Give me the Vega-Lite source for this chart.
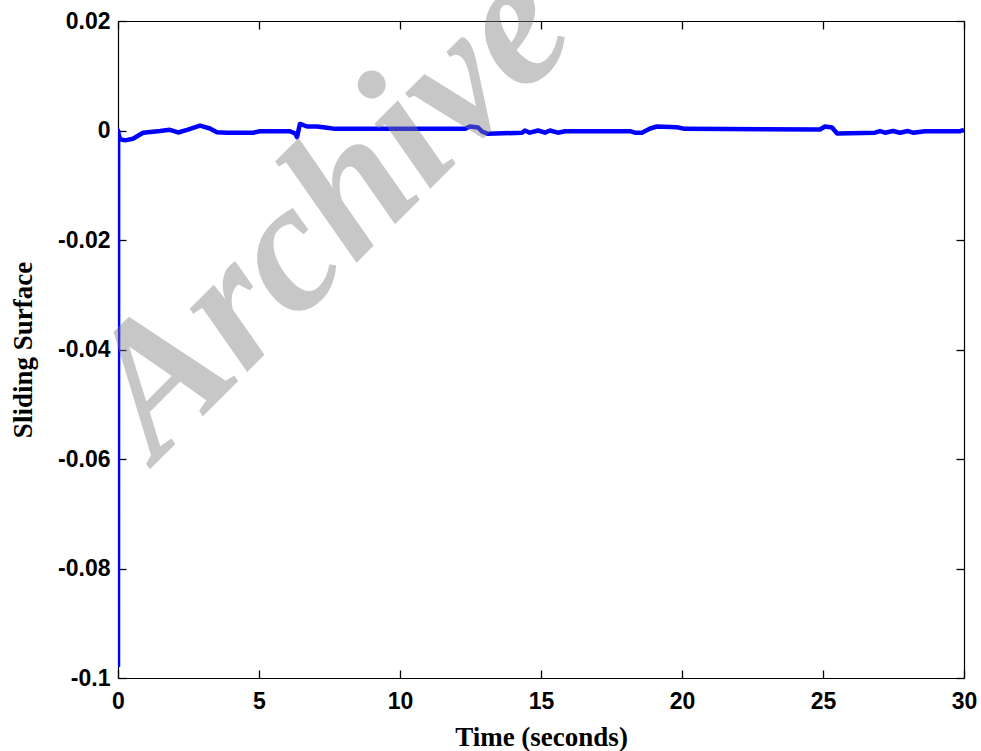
{
  "$schema": "https://vega.github.io/schema/vega-lite/v6.json",
  "width": 846,
  "height": 657,
  "autosize": {"type": "none"},
  "padding": {"left": 118, "top": 21, "right": 17, "bottom": 73},
  "background": "white",
  "config": {
    "view": {"stroke": null},
    "axis": {"domainColor": "black", "domainWidth": 1.2, "ticks": true, "tickColor": "black", "tickSize": -8, "tickWidth": 1.3, "grid": false}
  },
  "datasets": {
    "series": [
      {"t": 0, "v": -0.098},
      {"t": 0.005, "v": 0.0},
      {"t": 0.018, "v": -0.00055},
      {"t": 0.07, "v": -0.0016},
      {"t": 0.25, "v": -0.0018},
      {"t": 0.53, "v": -0.0015},
      {"t": 0.89, "v": -0.0004},
      {"t": 1.49, "v": -0.0001},
      {"t": 1.84, "v": 0.00013},
      {"t": 2.13, "v": -0.00036},
      {"t": 2.45, "v": 0.00013},
      {"t": 2.91, "v": 0.0009},
      {"t": 3.26, "v": 0.00036},
      {"t": 3.51, "v": -0.0003},
      {"t": 3.87, "v": -0.0004},
      {"t": 4.79, "v": -0.0004},
      {"t": 5.04, "v": -0.00013},
      {"t": 6.1, "v": -0.00013},
      {"t": 6.28, "v": -0.00055},
      {"t": 6.35, "v": -0.0012},
      {"t": 6.45, "v": 0.0012},
      {"t": 6.52, "v": 0.0011},
      {"t": 6.7, "v": 0.00073},
      {"t": 7.06, "v": 0.00073},
      {"t": 7.41, "v": 0.0005},
      {"t": 7.7, "v": 0.0003},
      {"t": 12.3, "v": 0.0003},
      {"t": 12.48, "v": 0.00073},
      {"t": 12.77, "v": 0.00055},
      {"t": 12.91, "v": -0.00018},
      {"t": 13.12, "v": -0.0006},
      {"t": 14.33, "v": -0.0004},
      {"t": 14.43, "v": 0.0},
      {"t": 14.6, "v": -0.0004},
      {"t": 14.9, "v": 0.0},
      {"t": 15.14, "v": -0.0004},
      {"t": 15.32, "v": 0.0},
      {"t": 15.6, "v": -0.0004},
      {"t": 15.85, "v": -0.00013},
      {"t": 18.16, "v": -0.00013},
      {"t": 18.33, "v": -0.0004},
      {"t": 18.58, "v": -0.0004},
      {"t": 18.87, "v": 0.00036},
      {"t": 19.11, "v": 0.00073},
      {"t": 19.82, "v": 0.0006},
      {"t": 20.1, "v": 0.0003},
      {"t": 24.89, "v": 0.00018},
      {"t": 25.07, "v": 0.00073},
      {"t": 25.32, "v": 0.00055},
      {"t": 25.5, "v": -0.00055},
      {"t": 26.84, "v": -0.0004},
      {"t": 27.02, "v": -0.0001},
      {"t": 27.2, "v": -0.0004},
      {"t": 27.48, "v": -0.0001},
      {"t": 27.73, "v": -0.0004},
      {"t": 28.01, "v": -0.0001},
      {"t": 28.19, "v": -0.0004},
      {"t": 28.62, "v": -0.00013},
      {"t": 29.86, "v": -0.00013},
      {"t": 30, "v": 0.0001}
    ],
    "wm": [{"t": 7.48, "v": -0.0147, "label": "Archive"}]
  },
  "layer": [
    {
      "data": {"name": "series"},
      "mark": {"type": "line", "color": "#0000ff", "strokeWidth": 4.5, "clip": true, "strokeJoin": "round"},
      "encoding": {
        "x": {
          "field": "t", "type": "quantitative",
          "scale": {"domain": [0, 30], "nice": false, "zero": false},
          "axis": {
            "orient": "bottom", "values": [0, 5, 10, 15, 20, 25, 30],
            "labelPadding": 20,
            "labelFont": "Liberation Sans", "labelFontWeight": "bold", "labelFontSize": 23, "labelColor": "black",
            "labelFlush": false, "labelOverlap": false,
            "title": "Time  (seconds)", "titleFont": "Liberation Serif", "titleFontWeight": "bold", "titleFontSize": 27,
            "titleColor": "black", "titlePadding": 11
          }
        },
        "y": {
          "field": "v", "type": "quantitative",
          "scale": {"domain": [-0.1, 0.02], "nice": false, "zero": false},
          "axis": {
            "orient": "left", "values": [-0.1, -0.08, -0.06, -0.04, -0.02, 0, 0.02],
            "labelExpr": "toString(round(datum.value*100)/100)",
            "labelPadding": 16,
            "labelFont": "Liberation Sans", "labelFontWeight": "bold", "labelFontSize": 23, "labelColor": "black",
            "labelFlush": false, "labelOverlap": false,
            "title": "Sliding Surface", "titleFont": "Liberation Serif", "titleFontWeight": "bold", "titleFontSize": 27,
            "titleColor": "black", "titlePadding": 20
          }
        }
      }
    },
    {
      "data": {"name": "series"},
      "mark": {"type": "line", "strokeOpacity": 0},
      "encoding": {
        "x": {"field": "t", "type": "quantitative",
          "axis": {"orient": "top", "values": [0, 5, 10, 15, 20, 25, 30], "labels": false, "title": null}},
        "y": {"field": "v", "type": "quantitative",
          "axis": {"orient": "right", "values": [-0.1, -0.08, -0.06, -0.04, -0.02, 0, 0.02], "labels": false, "title": null}}
      }
    },
    {
      "data": {"name": "wm"},
      "mark": {"type": "text", "font": "Liberation Serif", "fontWeight": "bold", "fontStyle": "italic", "fontSize": 186,
        "angle": -45, "align": "center", "baseline": "middle", "color": "#808080", "opacity": 0.43},
      "encoding": {
        "x": {"field": "t", "type": "quantitative", "axis": null},
        "y": {"field": "v", "type": "quantitative", "axis": null},
        "text": {"field": "label"}
      }
    }
  ],
  "resolve": {"axis": {"x": "independent", "y": "independent"}}
}
